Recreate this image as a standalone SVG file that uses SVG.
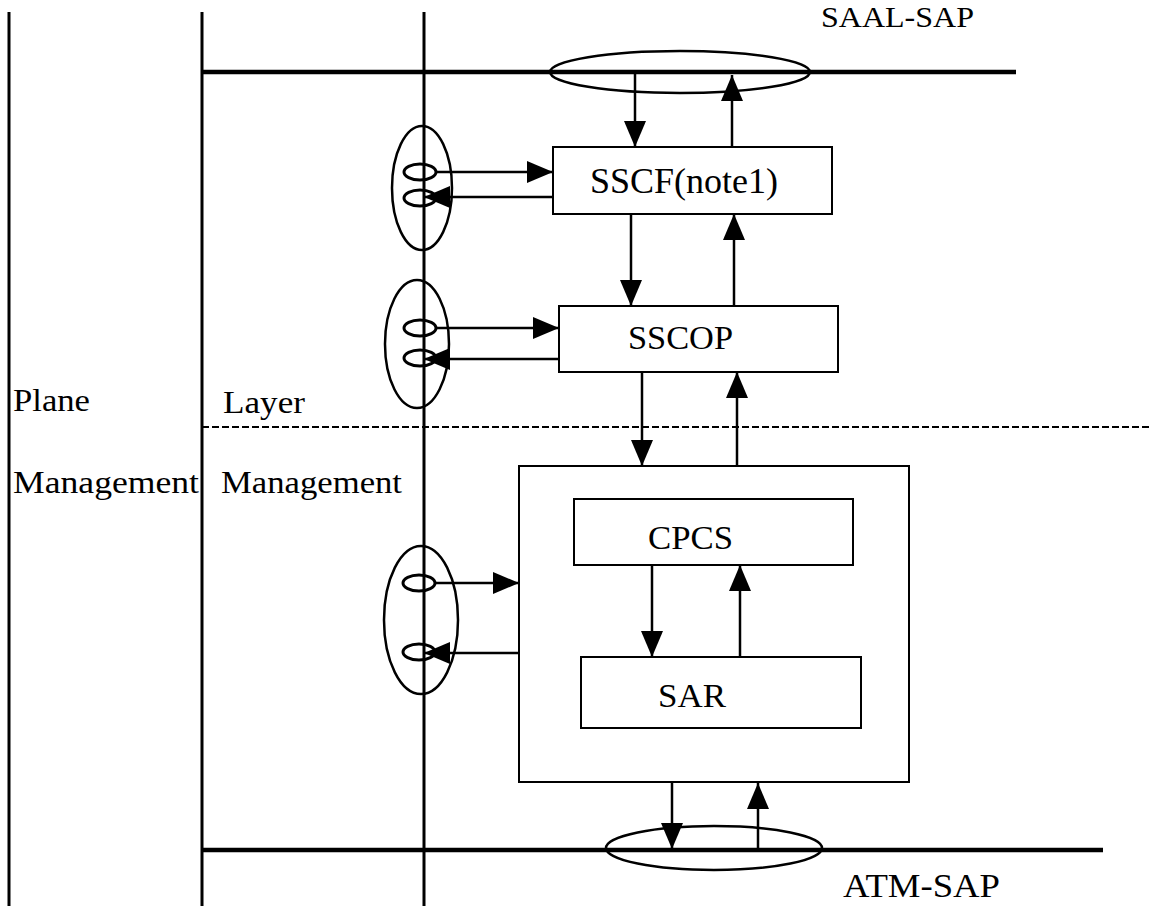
<svg xmlns="http://www.w3.org/2000/svg" width="1150" height="906" viewBox="0 0 1150 906">
<style>
text{font-family:"Liberation Serif","Times New Roman",serif;fill:#000}
.box{fill:#fff;stroke:#000;stroke-width:2}
.rail{stroke:#000;stroke-width:4.5;fill:none}
.vline{stroke:#000;stroke-width:3;fill:none}
.conn{stroke:#000;stroke-width:2.5;fill:none;marker-end:url(#ah)}
.ell{fill:none;stroke:#000;stroke-width:2.5}
.sm{fill:none;stroke:#000;stroke-width:3}
</style>
<defs>
<marker id="ah" markerUnits="userSpaceOnUse" markerWidth="26" markerHeight="22" refX="26" refY="11" orient="auto">
<path d="M0,0 L26,11 L0,22 z" fill="#000"/>
</marker>
</defs>
<rect width="1150" height="906" fill="#fff"/>
<g id="frame">
<line class="vline" x1="9" y1="12" x2="9" y2="906"/>
<line class="vline" x1="202" y1="12" x2="202" y2="906"/>
<line class="vline" x1="424" y1="12" x2="424" y2="906"/>
<line class="rail" x1="202" y1="72" x2="1016" y2="72"/>
<line class="rail" x1="202" y1="850" x2="1103" y2="850"/>
<line x1="202" y1="427" x2="1150" y2="427" stroke="#000" stroke-width="2" stroke-dasharray="7 3"/>
</g>
<g id="saal-sap">
<ellipse class="ell" cx="680" cy="72" rx="130" ry="21"/>
<text x="821" y="27" font-size="30" textLength="153" lengthAdjust="spacingAndGlyphs">SAAL-SAP</text>
</g>
<g id="atm-sap">
<ellipse class="ell" cx="714" cy="848" rx="108" ry="22"/>
<text x="843" y="897" font-size="33" textLength="157" lengthAdjust="spacingAndGlyphs">ATM-SAP</text>
</g>
<g id="labels">
<text x="13" y="411" font-size="32" textLength="77" lengthAdjust="spacingAndGlyphs">Plane</text>
<text x="13" y="493" font-size="32" textLength="186" lengthAdjust="spacingAndGlyphs">Management</text>
<text x="223" y="413" font-size="32" textLength="82" lengthAdjust="spacingAndGlyphs">Layer</text>
<text x="221" y="493" font-size="32" textLength="181" lengthAdjust="spacingAndGlyphs">Management</text>
</g>
<g id="mgmt1">
<ellipse class="ell" cx="422" cy="188" rx="30" ry="62"/>
<ellipse class="sm" cx="420" cy="172" rx="16" ry="8"/>
<ellipse class="sm" cx="420" cy="198" rx="16" ry="8"/>
</g>
<g id="mgmt2">
<ellipse class="ell" cx="417" cy="344" rx="32" ry="64"/>
<ellipse class="sm" cx="420" cy="328" rx="16" ry="8"/>
<ellipse class="sm" cx="420" cy="358" rx="16" ry="8"/>
</g>
<g id="mgmt3">
<ellipse class="ell" cx="421" cy="620" rx="37" ry="74"/>
<ellipse class="sm" cx="419" cy="583" rx="16" ry="8"/>
<ellipse class="sm" cx="419" cy="652" rx="16" ry="8"/>
</g>
<g id="sscf">
<rect class="box" x="553" y="147" width="279" height="67"/>
<text x="590" y="193" font-size="36" textLength="188" lengthAdjust="spacingAndGlyphs">SSCF(note1)</text>
</g>
<g id="sscop">
<rect class="box" x="559" y="306" width="279" height="66"/>
<text x="628" y="349" font-size="33" textLength="105" lengthAdjust="spacingAndGlyphs">SSCOP</text>
</g>
<g id="cpcs-sar-block">
<rect class="box" x="519" y="466" width="390" height="316" stroke-width="2.5"/>
</g>
<g id="cpcs">
<rect class="box" x="574" y="499" width="279" height="66"/>
<text x="648" y="549" font-size="34" textLength="85" lengthAdjust="spacingAndGlyphs">CPCS</text>
</g>
<g id="sar">
<rect class="box" x="581" y="657" width="280" height="71"/>
<text x="658" y="707" font-size="34" textLength="68" lengthAdjust="spacingAndGlyphs">SAR</text>
</g>
<g id="connectors">
<line class="conn" x1="635" y1="74" x2="635" y2="147"/>
<line class="conn" x1="732" y1="147" x2="732" y2="75"/>
<line class="conn" x1="631" y1="214" x2="631" y2="306"/>
<line class="conn" x1="734" y1="306" x2="734" y2="214"/>
<line class="conn" x1="642" y1="372" x2="642" y2="466"/>
<line class="conn" x1="737" y1="466" x2="737" y2="372"/>
<line class="conn" x1="652" y1="565" x2="652" y2="657"/>
<line class="conn" x1="740" y1="657" x2="740" y2="565"/>
<line class="conn" x1="672" y1="782" x2="672" y2="849"/>
<line class="conn" x1="758" y1="849" x2="758" y2="783"/>
<line class="conn" x1="436" y1="172" x2="553" y2="172"/>
<line class="conn" x1="553" y1="197" x2="424" y2="197"/>
<line class="conn" x1="436" y1="328" x2="559" y2="328"/>
<line class="conn" x1="559" y1="359" x2="424" y2="359"/>
<line class="conn" x1="435" y1="583" x2="519" y2="583"/>
<line class="conn" x1="519" y1="653" x2="424" y2="653"/>
</g>
</svg>
